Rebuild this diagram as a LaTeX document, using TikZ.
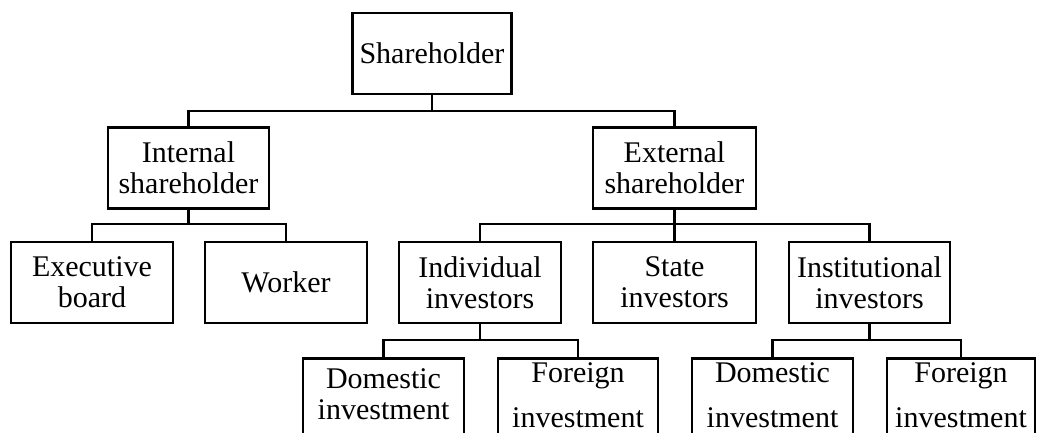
\documentclass[tikz,border=0pt]{standalone}
\usepackage{fontspec}
\setmainfont{Liberation Serif}
\usetikzlibrary{calc}

\tikzset{
    box/.style={draw, line width=2.6pt, minimum width=162pt, minimum height=81pt, inner sep=0pt, align=center, font=\fontsize{30}{31}\selectfont},
    leaf/.style={draw, line width=2.6pt, minimum width=161pt, minimum height=110pt, inner sep=0pt, anchor=north},
    leaftext/.style={anchor=north, inner sep=0pt, align=center, font=\fontsize{30}{45}\selectfont},
    link/.style={line width=2.6pt}
}

\begin{document}
\begin{tikzpicture}[x=1pt, y=-1pt]
        \useasboundingbox (0,0) rectangle (1037,433);

        \node[box, minimum width=159pt] (share) at (432,53.5) {Shareholder};

        \node[box, minimum width=161pt] (int) at (188.5,168) {Internal\\shareholder};
        \node[box, minimum width=163pt] (ext) at (674.5,168) {External\\shareholder};

        \node[box] (exec) at (92,282.5) {Executive\\board};
        \node[box] (work) at (286,282.5) {Worker};
        \node[box] (indiv) at (480,282.5) {Individual\\investors};
        \node[box, minimum width=163pt] (state) at (674.5,282.5) {State\\investors};
        \node[box, minimum width=161pt] (inst) at (869.5,282.5) {Institutional\\investors};

        \node[leaf] (dom1) at (383.5,357) {};
        \node[leaf, minimum width=160pt] (for1) at (578,357) {};
        \node[leaf] (dom2) at (772.5,357) {};
        \node[leaf, minimum width=148pt] (for2) at (961,357) {};

        \node[leaftext, font=\fontsize{30}{31}\selectfont] (dom1t) at ($(dom1.north)+(0,11.5)$) {Domestic\\investment};
        \node[leaftext] (for1t) at ($(for1.north)+(0,5.5)$) {Foreign\\investment};
        \node[leaftext] (dom2t) at ($(dom2.north)+(0,5.5)$) {Domestic\\investment};
        \node[leaftext] (for2t) at ($(for2.north)+(0,5.5)$) {Foreign\\investment};

        \coordinate (b0) at (432,111);
        \coordinate (b1) at (188.5,224);
        \coordinate (b2) at (674.5,224);
        \coordinate (b3) at (480,340);
        \coordinate (b4) at (869.5,340);

        \draw[link] (share.south) -- (b0);
        \draw[link] (int.north) |- (b0) -| (ext.north);

        \draw[link] (int.south) -- (b1);
        \draw[link] (exec.north) |- (b1) -| (work.north);

        \draw[link] (ext.south) -- (state.north);
        \draw[link] (indiv.north) |- (b2) -| (inst.north);

        \draw[link] (indiv.south) -- (b3);
        \draw[link] (dom1.north) |- (b3) -| (for1.north);

        \draw[link] (inst.south) -- (b4);
        \draw[link] (dom2.north) |- (b4) -| (for2.north);

\end{tikzpicture}
\end{document}
